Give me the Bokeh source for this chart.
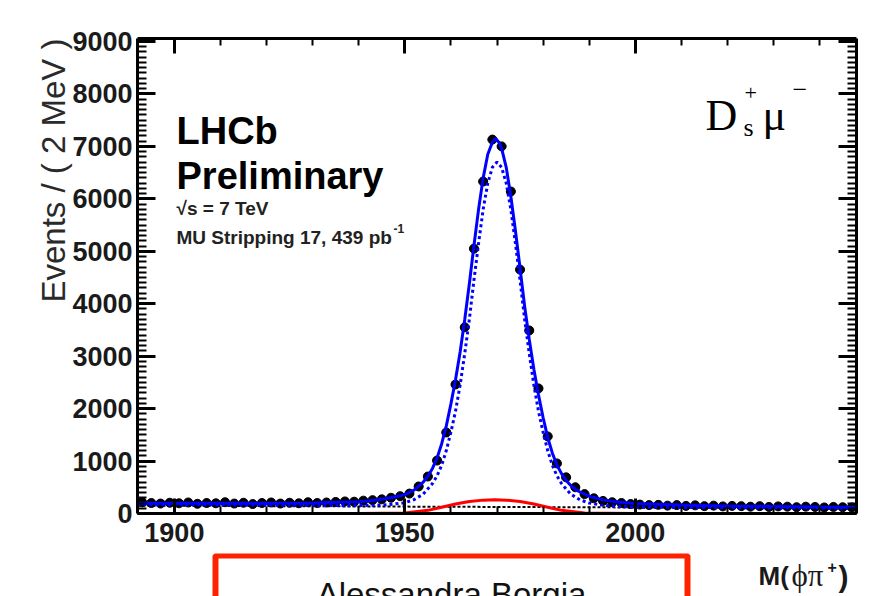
import numpy as np
from bokeh.plotting import figure
from bokeh.layouts import column
from bokeh.models import Range1d, LinearAxis, SingleIntervalTicker, Label
from bokeh.core.properties import value
from bokeh.embed import file_html
from bokeh.resources import INLINE

# ---------------- data ----------------
bin_centers = list(range(1893, 2048, 2))          # 2 MeV bins, 1892-2048
events = [215, 200, 190, 205, 195, 210, 185, 200, 195, 215, 190, 205,
          180, 200, 210, 190, 205, 195, 215, 200, 210, 220, 230, 225,
          245, 255, 270, 300, 330,
          380, 515, 705, 1010, 1545, 2460, 3550, 5050, 6330, 7130,
          7000, 6140, 4650, 3490, 2385, 1470, 955, 690, 500, 370,
          290, 240, 215, 200, 180,
          170, 160, 165, 150, 160, 145, 155, 140, 150, 135,
          145, 140, 130, 140, 125, 135, 130, 120, 130, 125,
          115, 125, 120, 115]

# total fit (solid blue)
fit_mass = [1892, 1900, 1910, 1920, 1930, 1936, 1940, 1943, 1946, 1948, 1950,
            1952, 1954, 1955, 1956, 1957, 1958, 1959, 1960, 1961, 1962, 1963,
            1964, 1965, 1966, 1967, 1968, 1969, 1969.7, 1970.5, 1971, 1972,
            1973, 1974, 1975, 1976, 1977, 1978, 1979, 1980, 1981, 1982, 1983,
            1984, 1985, 1986, 1987, 1988, 1990, 1993, 1996, 2000, 2005, 2010,
            2020, 2030, 2040, 2048]
fit_total = [195, 195, 195, 195, 200, 215, 225, 250, 285, 320, 360,
             445, 600, 710, 860, 1060, 1330, 1670, 2090, 2550, 3080, 3700,
             4380, 5110, 5800, 6400, 6850, 7080, 7150, 7070, 6960, 6600,
             6050, 5390, 4680, 3950, 3320, 2750, 2265, 1830, 1450, 1155, 925,
             760, 630, 535, 460, 410, 330, 260, 220, 190, 175, 160,
             145, 135, 125, 118]

# signal + combinatorial (dashed blue)
sig_mass = [1892, 1900, 1920, 1940, 1946, 1950, 1952, 1954, 1956, 1957, 1958,
            1959, 1960, 1961, 1962, 1963, 1964, 1965, 1966, 1967, 1968, 1969,
            1970, 1971, 1972, 1973, 1974, 1975, 1976, 1977, 1978, 1979, 1980,
            1981, 1982, 1983, 1984, 1986, 1988, 1990, 1993, 1996, 2000, 2010,
            2030, 2048]
sig_vals = [170, 168, 160, 150, 165, 205, 265, 370, 570, 720, 920,
            1200, 1550, 1950, 2450, 3050, 3700, 4450, 5150, 5800, 6300, 6600,
            6700, 6600, 6300, 5800, 5150, 4450, 3700, 3050, 2450, 1950, 1550,
            1200, 920, 720, 570, 370, 260, 200, 155, 135, 122, 115,
            110, 105]

# peaking component (red)
red_mass = [1940, 1950, 1955, 1958, 1961, 1964, 1967, 1969.5, 1972, 1975,
            1978, 1981, 1984, 1989, 2000]
red_vals = [0, 10, 60, 120, 180, 230, 255, 260, 255, 230, 180, 120, 60, 10, 0]

# combinatorial background (black dotted)
bkg_mass = [1892, 2048]
bkg_vals = [150, 100]

x_ticks_interval = 50
y_ticks_interval = 1000

# ---------------- layout geometry ----------------
W = 876
H_TOP, H_BOT = 553, 43
L, R, T, B = 137, 20, 38, 40
x0, x1 = 1892, 2048
y0, y1 = 0, 9057

p = figure(width=W, height=H_TOP, output_backend="svg", toolbar_location=None,
           x_range=Range1d(x0, x1), y_range=Range1d(y0, y1),
           x_axis_location=None, y_axis_location=None)
p.min_border_left = L
p.min_border_right = R
p.min_border_top = T
p.min_border_bottom = B
p.border_fill_color = "white"
p.background_fill_color = "white"
p.outline_line_color = None
p.xgrid.visible = False
p.ygrid.visible = False


def make_axis(kind, labels):
    if kind == "x":
        ax = LinearAxis(ticker=SingleIntervalTicker(interval=x_ticks_interval, num_minor_ticks=5))
        ax.major_tick_in = 15
        ax.minor_tick_in = 7
        ax.major_label_standoff = 9
    else:
        ax = LinearAxis(ticker=SingleIntervalTicker(interval=y_ticks_interval, num_minor_ticks=10))
        ax.major_tick_in = 18
        ax.minor_tick_in = 9
        ax.major_label_standoff = 5
    ax.major_tick_out = 0
    ax.minor_tick_out = 0
    ax.axis_line_width = 3
    ax.axis_line_color = "black"
    ax.major_tick_line_width = 3
    ax.minor_tick_line_width = 2
    ax.major_label_text_font = "Liberation Sans"
    ax.major_label_text_font_style = "bold"
    ax.major_label_text_font_size = "27px"
    if not labels:
        ax.major_label_text_alpha = 0
    ax.major_label_text_color = "#1a1a1a"
    return ax


p.add_layout(make_axis("x", True), "below")
p.add_layout(make_axis("x", False), "above")
p.add_layout(make_axis("y", True), "left")
p.add_layout(make_axis("y", False), "right")

# ---------------- data and fit ----------------
ev = np.array(events, dtype=float)
bc = np.array(bin_centers, dtype=float)
err = np.sqrt(ev)
p.segment(x0=bc - 1, x1=bc + 1, y0=ev, y1=ev, line_color="black", line_width=2)
p.segment(x0=bc, x1=bc, y0=ev - err, y1=ev + err, line_color="black", line_width=2)
p.scatter(bc, ev, size=9, color="black")

p.line(bkg_mass, bkg_vals, line_color="black", line_width=2, line_dash="3 2")
p.line(red_mass, red_vals, line_color="#ff0000", line_width=3)
p.line(sig_mass, sig_vals, line_color="#0000ff", line_width=3, line_dash="3 3")
p.line(fit_mass, fit_total, line_color="#0000ff", line_width=3)

# ---------------- texts in the plot ----------------
def lab(px, py, text, size, font="Liberation Sans", style="normal", align="left",
        baseline="alphabetic", angle=0.0, color="black", place=None):
    lb = Label(x=px, y=py, x_units="canvas", y_units="canvas",
               text=text, text_font=font, level="overlay",
               text_font_style=style, text_font_size=size,
               text_align=align, text_baseline=baseline, angle=angle,
               text_color=color)
    if place is None:
        p.add_layout(lb)
    else:
        p.add_layout(lb, place)

lab(176, 130, "LHCb", "38px", style="bold")
lab(176, 175, "Preliminary", "38px", style="bold")
lab(176, 208, "√s = 7 TeV", "19px", style="bold", color="#222222")
lab(176, 237, "MU Stripping 17, 439 pb", "19px", style="bold", color="#222222")
lab(393, 228, "-1", "12px", style="bold", color="#222222")

lab(705, 115, "D", "44px", font="Liberation Serif")
lab(743, 127, "s", "26px", font="Liberation Serif")
lab(744, 92, "+", "22px", font="Liberation Serif")
lab(762, 115, "μ", "44px", font="Liberation Serif")
lab(792, 89, "−", "26px", font="Liberation Serif")

lab(53, 38, "Events / ( 2 MeV )", "33px", align="right", baseline="middle",
    angle=np.pi / 2, color="#2a2a2a", place="left")

# ---------------- strip below the plot: axis title and name box ----------------
# the column aligns this frame with the plot frame above (x from L to W-R),
# so the range is set in page pixels over that same span
p2 = figure(width=W, height=H_BOT, output_backend="svg", toolbar_location=None,
            x_range=Range1d(L, W - R), y_range=Range1d(H_TOP + H_BOT, H_TOP),
            x_axis_location=None, y_axis_location=None)
p2.min_border_left = L
p2.min_border_right = R
p2.min_border_top = 0
p2.min_border_bottom = 0
p2.outline_line_color = None
p2.xgrid.visible = False
p2.ygrid.visible = False
p2.border_fill_color = "white"
p2.background_fill_color = "white"


def txt(px, py, text, size, font="Liberation Sans", style="normal", align="left",
        color="black"):
    p2.text(x=[px], y=[py], text=[text], text_font=value(font),
            text_font_style=style, text_font_size=value(size),
            text_align=align, text_baseline="alphabetic", text_color=color)

p2.quad(left=[215], right=[687], top=[555], bottom=[620], fill_color="white",
        line_color="#ff2200", line_width=6)
txt(451, 594, "Alessandra Borgia", "33px", align="center", color="#111111")

txt(758, 575, "M(", "26px", style="bold", color="#1a1a1a")
txt(791, 575, "ϕπ", "31px", font="Liberation Serif", color="#1a1a1a")
txt(827, 566, "+", "16px", style="bold", color="#1a1a1a")
txt(838, 576, ")", "30px", style="bold", color="#1a1a1a")

layout = column(p, p2, spacing=0)
open("out.html", "w").write(file_html(layout, INLINE))
